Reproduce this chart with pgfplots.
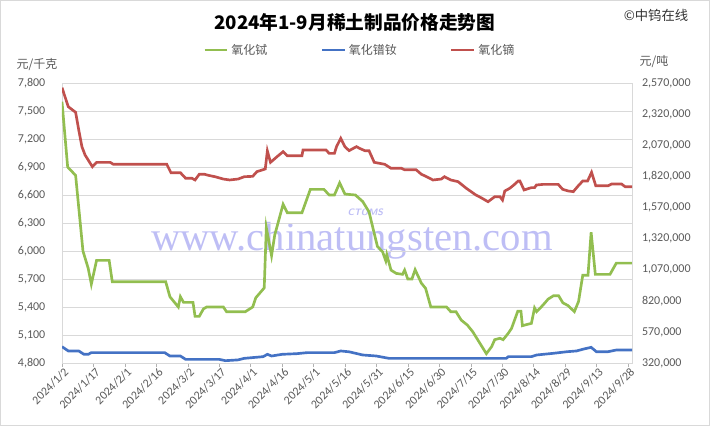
\documentclass[border=0pt]{standalone}
\usepackage{fontspec}
\setmainfont{Carlito}
\newfontfamily\cjk{Noto Sans CJK SC}
\newfontfamily\wm{Liberation Serif}
\usepackage{pgfplots}
\pgfplotsset{compat=1.18}
\definecolor{cgreen}{RGB}{146,190,80}
\definecolor{cblue}{RGB}{68,114,196}
\definecolor{cred}{RGB}{192,80,77}
\definecolor{ctext}{RGB}{89,89,89}
\definecolor{cgrid}{RGB}{217,217,217}
\definecolor{cwm}{RGB}{190,190,245}
\begin{document}
\begin{tikzpicture}
\useasboundingbox (0,0) rectangle (532.5pt,319.5pt);
\draw[cgrid] (0.3pt,0.3pt) rectangle (532.2pt,319.2pt);
\node[anchor=base, text=cwm, font=\wm\fontsize{30.5}{30}\selectfont] at (264pt,132pt) {www.chinatungsten.com};
\node[text=cwm, font=\sffamily\bfseries\itshape\fontsize{7}{7}\selectfont] at (274pt,160pt) {CTOMS};
\node[font=\cjk\bfseries\fontsize{14}{14}\selectfont] at (266pt,303pt) {2024年1-9月稀土制品价格走势图};
\node[font=\cjk\fontsize{10}{10}\selectfont, text=black!80] at (492pt,308pt) {©中钨在线};
\node[font=\cjk\fontsize{9}{9}\selectfont, text=ctext] at (27.75pt,270.75pt) {元/千克};
\node[font=\cjk\fontsize{9}{9}\selectfont, text=ctext] at (490.5pt,273pt) {元/吨};
\begin{axis}[
  at={(46.5pt,47.25pt)}, anchor=south west,
  width=427.5pt, height=210pt, scale only axis,
  xmin=0, xmax=272, ymin=4800, ymax=7800,
  ytick={4800,5100,5400,5700,6000,6300,6600,6900,7200,7500,7800},
  xtick={0,15,30,45,60,75,90,105,120,135,150,165,180,195,210,225,240,255,270},
  xticklabels={2024/1/2,2024/1/17,2024/2/1,2024/2/16,2024/3/2,2024/3/17,2024/4/1,2024/4/16,2024/5/1,2024/5/16,2024/5/31,2024/6/15,2024/6/30,2024/7/15,2024/7/30,2024/8/14,2024/8/29,2024/9/13,2024/9/28},
  ymajorgrids, grid style={cgrid, line width=0.6pt},
  axis line style={cgrid, line width=0.6pt},
  tick align=outside, xtick pos=bottom, ytick pos=left,
  major tick length=3pt,
  xtick style={draw=gray!60},
  ytick style={draw=none},
  /pgf/number format/assume math mode=true,
  /pgf/number format/.cd, 1000 sep={,}, /pgfplots/.cd,
  yticklabel style={font=\fontsize{9}{9}\selectfont, text=ctext, xshift=-6pt},
  xticklabel style={rotate=45, anchor=east, font=\fontsize{9}{9}\selectfont, text=ctext, inner sep=1pt, xshift=2pt, yshift=-4pt},
]
\addplot[cgreen, line width=2pt] coordinates {
(0,7600) (2.7,6900) (6.5,6810) (10,6000) (12.5,5815) (14,5645) (16.5,5900) (22.5,5900)
(24,5670) (49.5,5670) (51.5,5510) (55.5,5400) (56.5,5510) (58,5450) (62.5,5450) (63.5,5300)
(65.5,5300) (67.5,5380) (69,5400) (77,5400) (78.5,5350) (87.5,5350) (91,5400) (92.5,5500)
(95,5565) (96.5,5605) (97.5,6250) (100,5950) (101.5,6170) (105.5,6500) (107.5,6410) (114.5,6410)
(118.5,6660) (125,6660) (127.5,6600) (130,6600) (132.5,6730) (135,6610) (140,6600) (143.5,6530)
(146.5,6420) (150.5,6050) (153,5990) (154.5,5895) (155,5960) (157,5795) (159.5,5760) (162.5,5750)
(163.5,5795) (165,5700) (167,5700) (168.5,5800) (171.5,5655) (173.5,5600) (176,5400) (183.5,5400)
(185.5,5350) (188,5350) (190.5,5260) (193.5,5205) (196,5135) (202.5,4900) (205,4975) (206.5,5050)
(209,5065) (210.5,5050) (213,5120) (214.5,5170) (217.5,5355) (219,5355) (219.7,5200) (224,5225)
(225.5,5390) (226.5,5350) (229.5,5420) (232,5485) (234.5,5520) (237,5520) (239,5445) (241.5,5415)
(244.5,5350) (246.5,5460) (248.5,5740) (251,5740) (252.5,6200) (254.5,5750) (261.5,5750) (264.5,5870)
(272,5870)
};
\end{axis}
\begin{axis}[
  at={(46.5pt,47.25pt)}, anchor=south west,
  width=427.5pt, height=210pt, scale only axis,
  xmin=0, xmax=272, ymin=320000, ymax=2570000,
  axis x line=none, axis y line*=right,
  axis line style={cgrid, line width=0.6pt},
  ytick={320000,570000,820000,1070000,1320000,1570000,1820000,2070000,2320000,2570000},
  scaled y ticks=false,
  ytick style={draw=none},
  /pgf/number format/assume math mode=true,
  /pgf/number format/.cd, fixed, precision=0, 1000 sep={,}, /pgfplots/.cd,
  yticklabel style={font=\fontsize{9}{9}\selectfont, text=ctext, xshift=4pt},
  legend style={at={(0.523,1.118)}, anchor=center, draw=none, fill=none,
    font=\cjk\fontsize{9}{9}\selectfont, text=ctext, legend columns=3,
    /tikz/every even column/.append style={column sep=38pt}},
]
\addlegendimage{cgreen, line width=2pt}
\addlegendentry{氧化铽}
\addplot[cblue, line width=2pt] coordinates {
(0,451250) (3,416750) (8,416750) (10.5,389750) (12.5,389750) (14,403250) (49,403250)
(51.5,376250) (56.5,376250) (59,349250) (75,349250) (78,338750) (84,345000) (87,357500)
(96,371000) (98,389750) (100,376250) (105,389750) (112,395000) (117,403250) (130,403250)
(133,416750) (137,410000) (143.5,384500) (150,376250) (156,357500) (212,357500) (213,371000)
(224,371000) (226.5,384500) (234.5,398000) (241,410750) (245.5,416750) (249,432500) (252.5,446000)
(255,410750) (260.5,410750) (264.5,424250) (272,424250)
};
\addlegendentry{氧化镨钕}
\addplot[cred, line width=2pt] coordinates {
(0,2532500) (3,2379500) (6.5,2334500) (8,2192000) (9.5,2058500) (11,1991750) (14.5,1897250)
(16.5,1932500) (23,1932500) (24.5,1916750) (50,1916750) (52,1849250) (56.5,1849250) (59,1804250)
(62,1804250) (63.5,1790750) (65.5,1836500) (68,1836500) (70,1827500) (73,1817000) (77,1798250)
(80,1790750) (84,1798250) (87,1817000) (91,1820000) (93,1857500) (97,1879250) (98,2024000)
(99.5,1932500) (103,1983500) (105.5,2018000) (107.5,1985750) (114.5,1985750) (115,2031500)
(126,2031500) (127.5,2004500) (130,2004500) (131,2058500) (133,2125250) (135,2058500) (137,2026250)
(140.5,2058500) (142,2045000) (144.5,2026250) (146.5,2026250) (149,1932500) (154,1916750)
(157,1884500) (162,1884500) (163.5,1872500) (169,1872500) (171.5,1836500) (174,1817000)
(177,1790750) (181,1798250) (182.5,1817000) (185.5,1790750) (189,1777250) (193,1723250)
(197.5,1670000) (200,1648250) (203.3,1616000) (206.5,1656500) (209,1656500) (210.2,1629500)
(211.3,1702250) (213.6,1723250) (215.6,1750250) (217.7,1782500) (218.5,1782500) (220.5,1710500)
(224,1729250) (225.5,1729250) (226.4,1750250) (229.6,1755500) (236.8,1755500) (238.9,1715750)
(241.6,1702250) (244,1697000) (246.4,1745000) (248.5,1782500) (250.8,1782500) (252.7,1852250)
(254.7,1745000) (260.7,1745000) (262.3,1758500) (267,1758500) (268.7,1736750) (272,1736750)
};
\addlegendentry{氧化镝}
\end{axis}
\end{tikzpicture}
\end{document}
